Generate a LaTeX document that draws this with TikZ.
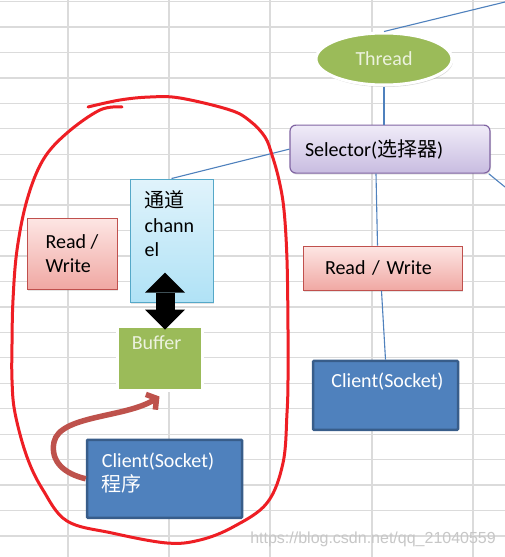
\documentclass[tikz,border=0pt]{standalone}
\usepackage{fontspec}
\setmainfont{Carlito}
\newfontfamily\cjk{Noto Sans CJK SC}
\newfontfamily\wmfont{Liberation Sans}
\usetikzlibrary{arrows.meta,positioning,shapes.geometric,shadows}

\definecolor{olivegreen}{RGB}{155,187,89}
\definecolor{palegreen}{RGB}{236,242,222}
\definecolor{linkblue}{RGB}{79,129,189}
\definecolor{clientblue}{RGB}{79,129,189}
\definecolor{clientdark}{RGB}{56,93,138}
\definecolor{lavtop}{RGB}{240,236,248}
\definecolor{lavbottom}{RGB}{200,188,224}
\definecolor{lavborder}{RGB}{128,100,162}
\definecolor{pinktop}{RGB}{253,230,228}
\definecolor{pinkbottom}{RGB}{240,168,163}
\definecolor{pinkborder}{RGB}{192,80,77}
\definecolor{cyantop}{RGB}{224,243,251}
\definecolor{cyanbottom}{RGB}{176,226,246}
\definecolor{cyanborder}{RGB}{85,168,200}
\definecolor{feedbrown}{RGB}{190,82,76}
\definecolor{penred}{RGB}{238,30,36}

\begin{document}
\begin{tikzpicture}
  [x=1pt, y=-1pt,
  font=\fontsize{20}{24.5}\selectfont,
  sheet/.style={draw=black!14, line width=1.3pt},
  thread/.style={ellipse, minimum width=136pt, minimum height=52pt, inner sep=0pt, fill=olivegreen, draw=white, line width=3pt, text=palegreen, drop shadow={opacity=0.3, shadow xshift=1pt, shadow yshift=-2pt}},
  selector/.style={rectangle, rounded corners=6pt, minimum width=200pt, minimum height=48pt, inner sep=0pt, top color=lavtop, bottom color=lavbottom, draw=lavborder, line width=1.2pt, drop shadow={opacity=0.2, shadow xshift=1pt, shadow yshift=-1.5pt}},
  rw/.style={rectangle, inner sep=0pt, top color=pinktop, bottom color=pinkbottom, draw=pinkborder, line width=1pt, drop shadow={opacity=0.2, shadow xshift=1pt, shadow yshift=-1.5pt}},
  channel/.style={rectangle, minimum width=83pt, minimum height=123pt, inner sep=0pt, top color=cyantop, bottom color=cyanbottom, draw=cyanborder, line width=1pt, drop shadow={opacity=0.2, shadow xshift=1pt, shadow yshift=-1.5pt}},
  buffer/.style={rectangle, minimum width=85pt, minimum height=64pt, inner sep=0pt, fill=olivegreen, draw=white, line width=3pt, drop shadow={opacity=0.35, shadow xshift=1pt, shadow yshift=-2pt}},
  client/.style={rectangle, inner sep=0pt, fill=clientblue, draw=clientdark, line width=2.5pt, rounded corners=1pt},
  link/.style={draw=linkblue, line width=1.1pt},
  dblarrow/.style={line width=19pt, {Triangle[length=20pt, width=40pt, line width=0pt]}-{Triangle[length=20pt, width=40pt, line width=0pt]}},
  feed/.style={draw=feedbrown, line width=5.5pt, -{Straight Barb[length=7pt, width=18pt]}},
  scribble/.style={draw=penred, line width=3pt, line cap=round, line join=round}]
  \useasboundingbox (0,0) rectangle (505,557);
  % spreadsheet background
  \fill [white] (0,0) rectangle (505,557);
  \foreach \gx in {68,169,270,372,473}
    \draw [sheet] (\gx,0) -- (\gx,557);
  \foreach \k in {0,...,21}
    \draw [sheet] (0,{1.5+25.45*\k}) -- (505,{1.5+25.45*\k});
  % selector side
  \node (thread)  [thread] at (384,59) {Thread};
  \node (selector) [selector, text width=170pt, align=left, below=38pt of thread, xshift=6pt] {Selector({\cjk 选择器})};
  \node (rw2) [rw, minimum width=159pt, minimum height=44pt, text width=115pt, align=left, below=72pt of selector, xshift=-7.5pt] {Read / Write};
  \node (client2) [client, minimum width=145pt, minimum height=69pt, below=69pt of rw2, xshift=3pt,
    label={[name=client2text, anchor=north, inner sep=0pt, text=white, yshift=-13pt, xshift=2pt]north:Client(Socket)}] {};
  % channel side
  \node (channel) [channel] at (171.5,240.5) {};
  \node (channeltext) [anchor=north west, align=left, inner sep=0pt] at ([xshift=15pt, yshift=-12pt]channel.north west) {{\cjk 通道}\\chann\\el};
  \node (rw1) [rw, minimum width=90pt, minimum height=71pt, align=left, left=12pt of channel, yshift=-13pt] {Read /\\Write};
  \node (buffer) [buffer, below=22pt of channel, xshift=-12pt,
    label={[name=buffertext, anchor=north, inner sep=0pt, text=palegreen, yshift=-11pt, xshift=-3pt]north:Buffer}] {};
  \node (client1) [client, minimum width=155pt, minimum height=78pt, below=47pt of buffer, xshift=5pt] {};
  \node (client1text) [anchor=north west, align=left, inner sep=0pt, text=white, font=\fontsize{20}{24}\selectfont] at ([xshift=16pt, yshift=-14pt]client1.north west) {Client(Socket)\\{\cjk 程序}};
  % connectors
  \coordinate (edge1) at (505,2);
  \coordinate (edge2) at (505,187);
  \draw [link] (thread.north) -- (edge1);
  \draw [link] (thread.south) -- (thread.south |- selector.north);
  \draw [link] (selector.west) -- (channel.north);
  \draw [link] (selector.-14.6) -- (edge2);
  \draw [link] ([xshift=-14pt]selector.south) -- ([xshift=-5pt]rw2.north);
  \draw [link] ([xshift=-1pt]rw2.south) -- (client2.north);
  \draw [dblarrow] ([xshift=-6.5pt, yshift=30pt]channel.south) -- ([xshift=5.5pt, yshift=-5pt]buffer.north);
  \draw [feed] (client1.west) .. controls (65,474) and (50,462) .. (54,442)
    .. controls (60,415) and (125,418) .. ([yshift=-5pt]buffer.south);
  % hand drawn ring
  \draw [scribble] plot [smooth, tension=0.6] coordinates {(88,107) (120,100) (150,97) (180,98) (230,110) (250,121) (265,137) (272,155) (279,180) (284,210) (287,260) (288,330) (288,380) (287,413) (283,463) (267,503) (233,527) (200,540) (167,543) (112,533) (67,521) (43,490) (27,457) (15,413) (12,380) (12,344) (13,300) (17,250) (27,200) (43,160) (67,133) (100,110) (122,107)};
  \node (watermark) [anchor=base east, inner sep=0pt, text=black!22, font=\wmfont\fontsize{16}{19}\selectfont] at (496,543) {https://blog.csdn.net/qq\_21040559};
\end{tikzpicture}
\end{document}
